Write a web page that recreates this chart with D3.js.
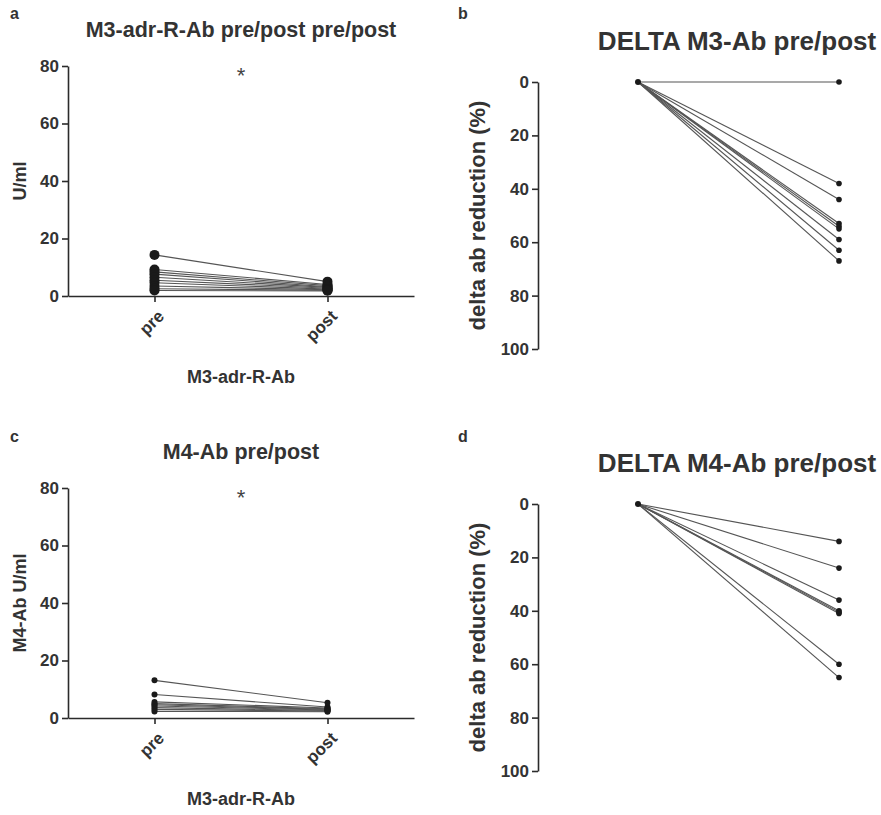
<!DOCTYPE html>
<html lang="en">
<head>
<meta charset="UTF-8">
<title>M3 / M4 antibody pre/post</title>
<script src="https://d3js.org/d3.v7.min.js"></script>
<style>
    * { margin: 0; padding: 0; }
    body { background: #fff; }
    svg { display: block; font-family: 'Liberation Sans', Arial, sans-serif; }
    .axis path, .axis line { stroke: #2b2b2b; stroke-width: 1.6; }
    .axis text { font-size: 17px; font-weight: bold; fill: #333; }
</style>
</head>
<body>
<svg id="chart" width="881" height="815"></svg>
<script>
// paired values (U/ml) per patient
const groups = ["pre", "post"];
const m3Pre  = [14.3, 9.2, 8.4, 7.6, 6.5, 5.5, 4.6, 3.5, 2.5, 1.9];
const m3Post = [5.0, 4.0, 3.6, 3.2, 3.0, 2.7, 2.4, 2.2, 2.0, 1.8];
const m4Pre  = [13.1, 8.2, 5.6, 5.0, 4.6, 4.2, 3.6, 3.0, 2.3];
const m4Post = [5.3, 3.8, 3.5, 3.2, 3.0, 2.8, 2.6, 2.4, 2.2];
// delta reduction (%) post vs pre
const m3Delta = [0, 38, 44, 53, 54, 55, 59, 63, 67];
const m4Delta = [14, 24, 36, 40, 40.5, 41, 60, 65];
const absTicks = [0, 20, 40, 60, 80];
const deltaTicks = [0, 20, 40, 60, 80, 100];

const svg = d3.select("#chart");

function panelLetter(x, y, t) {
    svg.append("text").attr("x", x).attr("y", y)
        .attr("font-weight", "bold").attr("font-size", 16).attr("fill", "#333")
        .text(t);
}

function pairedPanel(top, title, ylabel, pre, post, r) {
    const y = d3.scaleLinear().domain([0, 80]).range([top + 230, top]);
    const x = d3.scaleLinear().domain([-0.5, 1.5]).range([68, 414]);
    const g = svg.append("g");

    g.append("text").attr("x", 241).attr("y", top - 29)
        .attr("text-anchor", "middle").attr("font-size", 21.5)
        .attr("font-weight", "bold").attr("fill", "#333").text(title);

    g.append("g").attr("class", "axis")
        .attr("transform", "translate(68,0)")
        .call(d3.axisLeft(y).tickValues(absTicks).tickSize(6).tickSizeOuter(0).tickPadding(3));

    const xa = g.append("g").attr("class", "axis")
        .attr("transform", `translate(0,${y(0)})`)
        .call(d3.axisBottom(x).tickValues([0, 1]).tickFormat(i => groups[i])
            .tickSize(6).tickSizeOuter(0));
    xa.selectAll(".tick text")
        .attr("text-anchor", "end")
        .attr("dy", "0.35em")
        .attr("transform", "translate(6,17) rotate(-45)")
        .attr("font-size", 18)
        .attr("y", 0).attr("x", 0);

    g.append("text")
        .attr("transform", `translate(26,${y(40)}) rotate(-90)`)
        .attr("text-anchor", "middle").attr("font-size", 18)
        .attr("font-weight", "bold").attr("fill", "#333").text(ylabel);

    g.append("text").attr("x", 241).attr("y", top + 317)
        .attr("text-anchor", "middle").attr("font-size", 18)
        .attr("font-weight", "bold").attr("fill", "#333").text("M3-adr-R-Ab");

    g.append("text").attr("x", 241).attr("y", top + 17)
        .attr("text-anchor", "middle").attr("font-size", 22)
        .attr("fill", "#444").text("*");

    const pairs = pre.map((v, i) => [v, post[i]]);
    g.selectAll("line.pair").data(pairs).enter().append("line")
        .attr("class", "pair")
        .attr("x1", x(0)).attr("x2", x(1))
        .attr("y1", d => y(d[0])).attr("y2", d => y(d[1]))
        .attr("stroke", "#555").attr("stroke-width", 1.1);

    [pre, post].forEach((vals, gi) => {
        g.selectAll(null).data(vals).enter().append("circle")
            .attr("cx", x(gi)).attr("cy", d => y(d)).attr("r", r)
            .attr("fill", "#1a1a1a");
    });
}

function deltaPanel(top, title, vals) {
    const y = d3.scaleLinear().domain([0, 100]).range([top, top + 267]);
    const x = d3.scalePoint().domain(groups).range([638, 839]);
    const g = svg.append("g");

    g.append("text").attr("x", 737).attr("y", top - 32)
        .attr("text-anchor", "middle").attr("font-size", 26)
        .attr("font-weight", "bold").attr("fill", "#333").text(title);

    g.append("g").attr("class", "axis")
        .attr("transform", "translate(538,0)")
        .call(d3.axisLeft(y).tickValues(deltaTicks).tickSize(6).tickSizeOuter(0).tickPadding(3));

    g.append("text")
        .attr("transform", `translate(485,${y(50)}) rotate(-90)`)
        .attr("text-anchor", "middle").attr("font-size", 22)
        .attr("font-weight", "bold").attr("fill", "#333")
        .text("delta ab reduction (%)");

    g.selectAll("line.pair").data(vals).enter().append("line")
        .attr("class", "pair")
        .attr("x1", x("pre")).attr("x2", x("post"))
        .attr("y1", y(0)).attr("y2", d => y(d))
        .attr("stroke", "#555").attr("stroke-width", 1.1);

    g.selectAll(null).data(vals).enter().append("circle")
        .attr("cx", x("post")).attr("cy", d => y(d)).attr("r", 2.8)
        .attr("fill", "#1a1a1a");
    g.append("circle").attr("cx", x("pre")).attr("cy", y(0)).attr("r", 3)
        .attr("fill", "#1a1a1a");
}

panelLetter(10, 19, "a");
panelLetter(458, 19, "b");
panelLetter(10, 442, "c");
panelLetter(458, 442, "d");

pairedPanel(66, "M3-adr-R-Ab pre/post pre/post", "U/ml", m3Pre, m3Post, 5);
pairedPanel(488, "M4-Ab pre/post", "M4-Ab U/ml", m4Pre, m4Post, 3);
deltaPanel(82, "DELTA M3-Ab pre/post", m3Delta);
deltaPanel(504, "DELTA M4-Ab pre/post", m4Delta);
</script>
</body>
</html>
